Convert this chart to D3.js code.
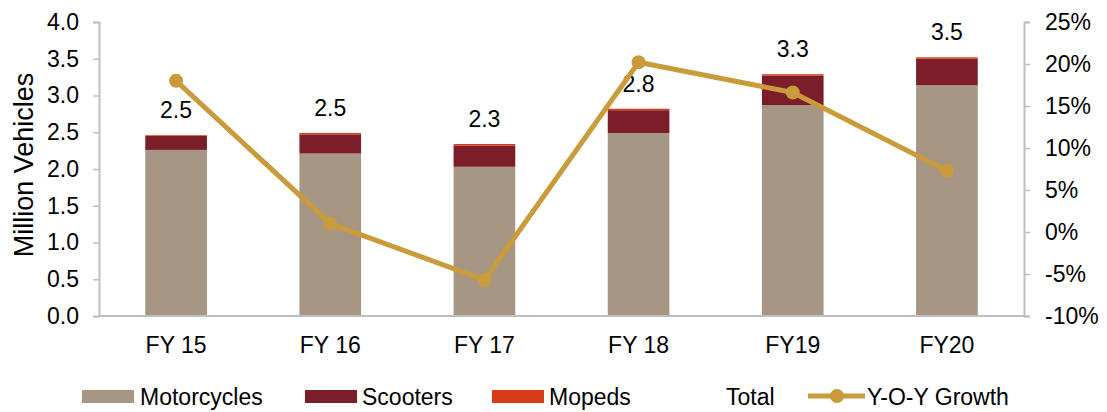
<!DOCTYPE html>
<html>
<head>
<meta charset="utf-8">
<script src="https://cdn.jsdelivr.net/npm/d3@7"></script>
<style>
  body { margin: 0; background: #fff; }
  svg { font-family: "Liberation Sans", Arial, sans-serif; }
</style>
</head>
<body>
<script>
const width = 1107;
const height = 412;

const categories = ["FY 15", "FY 16", "FY 17", "FY 18", "FY19", "FY20"];
const motorcycles = [2.26, 2.21, 2.03, 2.49, 2.87, 3.14];
const scooters = [0.19, 0.26, 0.29, 0.31, 0.4, 0.36];
const mopeds = [0.01, 0.02, 0.02, 0.02, 0.02, 0.02];
const totalLabels = ["2.5", "2.5", "2.3", "2.8", "3.3", "3.5"];
const growth = [18.0, 1.0, -5.7, 20.2, 16.6, 7.3];
const leftTicks = [0, 0.5, 1, 1.5, 2, 2.5, 3, 3.5, 4];
const rightTicks = [-10, -5, 0, 5, 10, 15, 20, 25];

const colors = {
  Motorcycles: "#a69683",
  Scooters: "#7b1e2a",
  Mopeds: "#d73b17",
  line: "#c99b3b",
  axis: "#bfbfbf"
};

const plot = { left: 99, right: 1024, top: 22, bottom: 316 };
const fontSize = 23;

const svg = d3.select("body").append("svg")
  .attr("width", width)
  .attr("height", height);

const x = d3.scaleBand().domain(categories).range([plot.left, plot.right]).paddingInner(0.6).paddingOuter(0.3);
const y = d3.scaleLinear().domain([0, 4]).range([plot.bottom, plot.top]);
const y2 = d3.scaleLinear().domain([-10, 25]).range([plot.bottom, plot.top]);

// stacked data
const rows = categories.map((c, i) => ({
  cat: c,
  Motorcycles: motorcycles[i],
  Scooters: scooters[i],
  Mopeds: mopeds[i]
}));
const keys = ["Motorcycles", "Scooters", "Mopeds"];
const stacked = d3.stack().keys(keys)(rows);

svg.append("g").selectAll("g")
  .data(stacked)
  .enter().append("g")
  .attr("fill", (d) => colors[d.key])
  .selectAll("rect")
  .data((d) => d)
  .enter().append("rect")
  .attr("x", (d) => x(d.data.cat))
  .attr("width", x.bandwidth())
  .attr("y", (d) => y(d[1]))
  .attr("height", (d) => y(d[0]) - y(d[1]));

// axes
const yAxis = d3.axisLeft(y).tickValues(leftTicks).tickFormat(d3.format(".1f")).tickSize(6).tickPadding(14);
const gy = svg.append("g").attr("transform", `translate(${plot.left},0)`).call(yAxis);

const y2Axis = d3.axisRight(y2).tickValues(rightTicks).tickFormat((d) => d + "%").tickSize(6).tickPadding(15);
const gy2 = svg.append("g").attr("transform", `translate(${plot.right},0)`).call(y2Axis);

const xAxis = d3.axisBottom(x).tickSize(0).tickPadding(21);
const gx = svg.append("g").attr("transform", `translate(0,${plot.bottom})`).call(xAxis);

[gy, gy2, gx].forEach((g) => {
  g.selectAll("path").attr("stroke", colors.axis).attr("stroke-width", 2);
  g.selectAll("line").attr("stroke", colors.axis).attr("stroke-width", 1.5);
  g.selectAll("text").attr("font-size", fontSize).attr("fill", "#000")
    .attr("font-family", "Liberation Sans, Arial, sans-serif");
});
gx.select("path").attr("d", `M${plot.left},0H${plot.right}`);

// y axis title
svg.append("text")
  .attr("transform", `translate(33,165) rotate(-90)`)
  .attr("text-anchor", "middle")
  .attr("font-size", 27)
  .text("Million Vehicles");

// total labels
svg.append("g").selectAll("text")
  .data(rows)
  .enter().append("text")
  .attr("x", (d) => x(d.cat) + x.bandwidth() / 2)
  .attr("y", (d, i) => y(motorcycles[i] + scooters[i] + mopeds[i]) - 17)
  .attr("text-anchor", "middle")
  .attr("font-size", fontSize)
  .text((d, i) => totalLabels[i]);

// growth line
const line = d3.line()
  .x((d, i) => x(categories[i]) + x.bandwidth() / 2)
  .y((d) => y2(d));

svg.append("path")
  .datum(growth)
  .attr("fill", "none")
  .attr("stroke", colors.line)
  .attr("stroke-width", 5)
  .attr("stroke-linejoin", "round")
  .attr("d", line);

svg.append("g").selectAll("circle")
  .data(growth)
  .enter().append("circle")
  .attr("cx", (d, i) => x(categories[i]) + x.bandwidth() / 2)
  .attr("cy", (d) => y2(d))
  .attr("r", 7)
  .attr("fill", colors.line);

// legend
const legend = svg.append("g").attr("transform", "translate(0,396)");
const swatches = [
  { name: "Motorcycles", x: 82, tx: 140 },
  { name: "Scooters", x: 305, tx: 362 },
  { name: "Mopeds", x: 492, tx: 549 }
];
swatches.forEach((s) => {
  legend.append("rect")
    .attr("x", s.x).attr("y", -6)
    .attr("width", 52).attr("height", 13)
    .attr("fill", colors[s.name]);
  legend.append("text")
    .attr("x", s.tx).attr("y", 9)
    .attr("font-size", fontSize)
    .text(s.name);
});
legend.append("text").attr("x", 726).attr("y", 9).attr("font-size", fontSize).text("Total");
legend.append("line")
  .attr("x1", 808).attr("x2", 865).attr("y1", 0).attr("y2", 0)
  .attr("stroke", colors.line).attr("stroke-width", 5);
legend.append("circle").attr("cx", 837).attr("cy", 0).attr("r", 7).attr("fill", colors.line);
legend.append("text").attr("x", 867).attr("y", 9).attr("font-size", fontSize).text("Y-O-Y Growth");
</script>
</body>
</html>
